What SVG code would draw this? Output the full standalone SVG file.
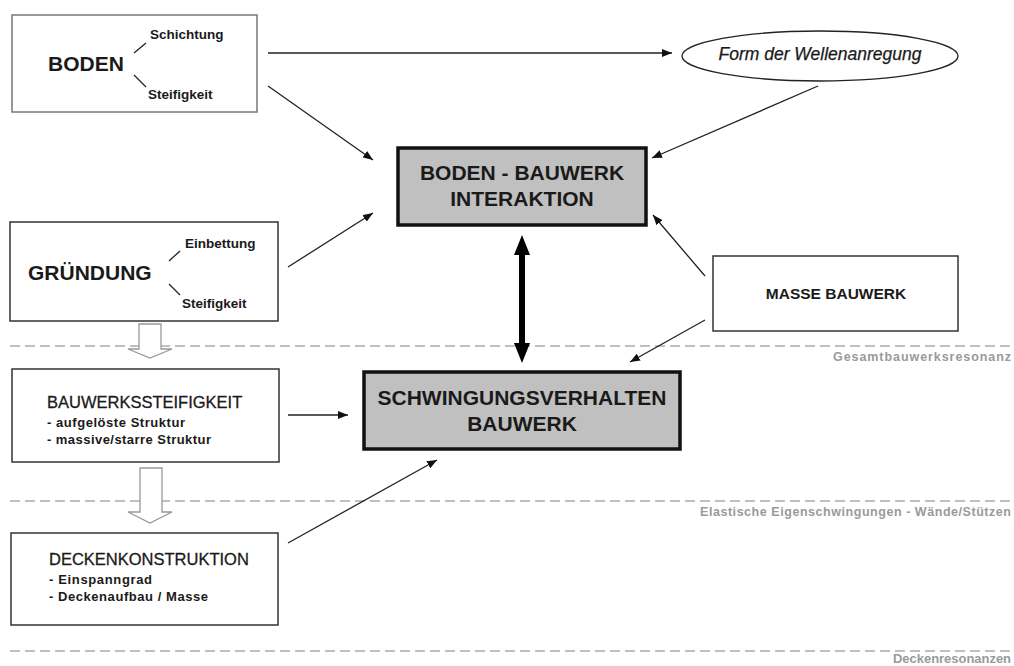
<svg xmlns="http://www.w3.org/2000/svg" width="1014" height="666" viewBox="0 0 1014 666">
<style>
.box{fill:#fff;stroke:#333;stroke-width:1.5}
.gbox{fill:#c0c0c0;stroke:#111;stroke-width:3.5}
.t{font-family:"Liberation Sans",Arial,sans-serif;fill:#1a1a1a}
.b{font-weight:bold}
.ln{stroke:#222;stroke-width:1.3;fill:none}
.dash{stroke:#aaa;stroke-width:1.5;stroke-dasharray:10 5}
.gl{font-family:"Liberation Sans",Arial,sans-serif;font-weight:bold;fill:#9a9a9a;font-size:12.5px}
.hollow{fill:#fff;stroke:#999;stroke-width:1.3}
</style>
<defs>
<marker id="ah" viewBox="0 0 10 8" refX="10" refY="4" markerWidth="10" markerHeight="8" markerUnits="userSpaceOnUse" orient="auto">
<path d="M0,0 L10,4 L0,8 Z" fill="#111"/>
</marker>
</defs>
<rect width="1014" height="666" fill="#fff"/>

<g id="separators">
<line class="dash" x1="10" y1="346" x2="1014" y2="346"/>
<line class="dash" x1="10" y1="501" x2="1014" y2="501"/>
<line class="dash" x1="10" y1="651" x2="1014" y2="651"/>
<text class="gl" x="1011" y="361" text-anchor="end" textLength="178" lengthAdjust="spacing">Gesamtbauwerksresonanz</text>
<text class="gl" x="1011" y="516" text-anchor="end" textLength="311" lengthAdjust="spacing">Elastische Eigenschwingungen  - Wände/Stützen</text>
<text class="gl" x="1011" y="663" text-anchor="end" textLength="118" lengthAdjust="spacingAndGlyphs">Deckenresonanzen</text>
</g>

<g id="hollow-arrows">
<path class="hollow" d="M139,324 H161 V349 H172 L150,358 L128,349 H139 Z"/>
<path class="hollow" d="M140,468 H162 V512 H172 L150,523 L128,512 H140 Z"/>
</g>

<g id="boden">
<rect x="12" y="15" width="245" height="97" fill="#fff" stroke="#777" stroke-width="1.5"/>
<text class="t b" x="48" y="71" font-size="21">BODEN</text>
<line class="ln" x1="134" y1="53" x2="146" y2="43"/>
<line class="ln" x1="134" y1="75" x2="146" y2="87"/>
<text class="t b" x="150" y="39" font-size="13.5">Schichtung</text>
<text class="t b" x="148" y="99" font-size="13.5">Steifigkeit</text>
</g>

<g id="gruendung">
<rect class="box" x="10" y="222" width="268" height="99"/>
<text class="t b" x="28" y="280" font-size="21">GRÜNDUNG</text>
<line class="ln" x1="169" y1="261" x2="180" y2="251"/>
<line class="ln" x1="169" y1="284" x2="180" y2="295"/>
<text class="t b" x="185" y="248" font-size="13.5">Einbettung</text>
<text class="t b" x="182" y="308" font-size="13.5">Steifigkeit</text>
</g>

<g id="bauwerkssteifigkeit">
<rect class="box" x="12" y="369" width="267" height="93"/>
<text class="t" x="47" y="408" font-size="16.5" stroke="#1a1a1a" stroke-width="0.3">BAUWERKSSTEIFIGKEIT</text>
<text class="t b" x="47" y="427" font-size="13" textLength="138" lengthAdjust="spacing">- aufgelöste Struktur</text>
<text class="t b" x="47" y="444" font-size="13" textLength="164" lengthAdjust="spacing">- massive/starre Struktur</text>
</g>

<g id="deckenkonstruktion">
<rect class="box" x="11" y="533" width="267" height="92"/>
<text class="t" x="49" y="565" font-size="16.5" stroke="#1a1a1a" stroke-width="0.3">DECKENKONSTRUKTION</text>
<text class="t b" x="49" y="584" font-size="13" textLength="103" lengthAdjust="spacing">- Einspanngrad</text>
<text class="t b" x="49" y="601" font-size="13" textLength="159" lengthAdjust="spacing">- Deckenaufbau / Masse</text>
</g>

<g id="wellenanregung">
<ellipse cx="820" cy="56" rx="138" ry="25" fill="#fff" stroke="#222" stroke-width="1.3"/>
<text class="t" x="820" y="60" font-size="17.5" font-style="italic" text-anchor="middle" stroke="#1a1a1a" stroke-width="0.25">Form der Wellenanregung</text>
</g>

<g id="interaktion">
<rect class="gbox" x="398" y="148" width="248" height="77"/>
<text class="t b" x="522" y="180" font-size="21" text-anchor="middle">BODEN - BAUWERK</text>
<text class="t b" x="522" y="206" font-size="21" text-anchor="middle">INTERAKTION</text>
</g>

<g id="schwingungsverhalten">
<rect class="gbox" x="364" y="372" width="316" height="77"/>
<text class="t b" x="522" y="405" font-size="21" text-anchor="middle">SCHWINGUNGSVERHALTEN</text>
<text class="t b" x="522" y="431" font-size="21" text-anchor="middle">BAUWERK</text>
</g>

<g id="masse-bauwerk">
<rect class="box" x="713" y="256" width="245" height="75"/>
<text class="t b" x="836" y="299" font-size="15.5" text-anchor="middle">MASSE BAUWERK</text>
</g>

<g id="connectors">
<line class="ln" x1="268" y1="53" x2="672" y2="53" marker-end="url(#ah)"/>
<line class="ln" x1="268" y1="86" x2="373" y2="160" marker-end="url(#ah)"/>
<line class="ln" x1="818" y1="86" x2="652" y2="158" marker-end="url(#ah)"/>
<line class="ln" x1="288" y1="267" x2="373" y2="213" marker-end="url(#ah)"/>
<line class="ln" x1="705" y1="276" x2="653" y2="215" marker-end="url(#ah)"/>
<line class="ln" x1="705" y1="320" x2="630" y2="362" marker-end="url(#ah)"/>
<line class="ln" x1="288" y1="415" x2="348" y2="415" marker-end="url(#ah)"/>
<line class="ln" x1="288" y1="543" x2="437" y2="460" marker-end="url(#ah)"/>
<g id="double-arrow" fill="#000">
<rect x="519" y="250" width="6" height="98"/>
<path d="M522,235 L530,255 L514,255 Z"/>
<path d="M522,363 L530,343 L514,343 Z"/>
</g>
</g>
</svg>
